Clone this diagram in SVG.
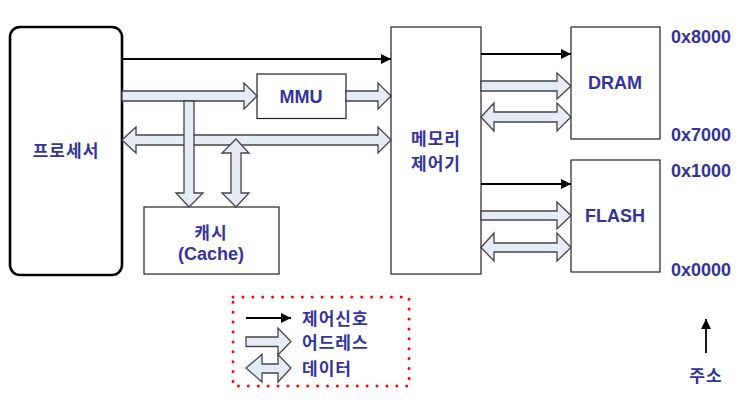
<svg xmlns="http://www.w3.org/2000/svg" width="755" height="411" viewBox="0 0 755 411">
<defs>
<marker id="ah" viewBox="0 0 10 10" refX="10" refY="5" markerWidth="10" markerHeight="11" markerUnits="userSpaceOnUse" orient="auto">
<path d="M0,0 L10,5 L0,10 Z" fill="#000"/>
</marker>
<style>
.box{fill:#fff;stroke:#222;stroke-width:1.2}
.blk{fill:none;stroke:#000;stroke-width:1.8}
.fat{fill:#e6ecf6;stroke:#444;stroke-width:1.3;stroke-linejoin:miter}
.lat{font-family:"Liberation Sans",Arial,sans-serif;font-weight:bold;font-size:18px;fill:#333399}
.kor{font-family:"Noto Sans CJK KR","Noto Sans",sans-serif;font-weight:bold;font-size:17px;letter-spacing:1px;fill:#333399}
</style>
</defs>
<rect width="755" height="411" fill="#fff"/>

<g id="processor">
<rect x="10" y="27" width="112" height="248" rx="10" ry="10" fill="#fff" stroke="#000" stroke-width="2.6"/>
<text class="kor" x="66" y="157" text-anchor="middle">프로세서</text>
</g>
<g id="mmu">
<rect class="box" x="257" y="74" width="89" height="44.5"/>
<text class="lat" x="301" y="102.5" text-anchor="middle">MMU</text>
</g>
<g id="cache">
<rect class="box" x="144" y="207" width="135" height="67"/>
<text class="kor" x="211" y="239" text-anchor="middle">캐시</text>
<text class="lat" x="211" y="259.5" text-anchor="middle">(Cache)</text>
</g>
<g id="memctrl">
<rect class="box" x="391" y="27" width="90" height="247"/>
<text class="kor" x="436" y="145" text-anchor="middle">메모리</text>
<text class="kor" x="436" y="170" text-anchor="middle">제어기</text>
</g>
<g id="dram">
<rect class="box" x="571" y="27" width="89" height="112"/>
<text class="lat" x="615" y="89" text-anchor="middle">DRAM</text>
</g>
<g id="flash">
<rect class="box" x="571" y="160" width="89" height="112"/>
<text class="lat" x="615" y="222.3" text-anchor="middle">FLASH</text>
</g>
<g id="addresses">
<text class="lat" x="671" y="42.7">0x8000</text>
<text class="lat" x="671" y="140.5">0x7000</text>
<text class="lat" x="671" y="176.5">0x1000</text>
<text class="lat" x="671" y="276">0x0000</text>
<line class="blk" x1="706" y1="353" x2="706" y2="319" marker-end="url(#ah)"/>
<text class="kor" x="706" y="382" text-anchor="middle">주소</text>
</g>

<g id="connectors">
<line class="blk" x1="122" y1="59" x2="391" y2="59" marker-end="url(#ah)"/>
<line class="blk" x1="481" y1="54" x2="571" y2="54" marker-end="url(#ah)"/>
<line class="blk" x1="481" y1="184" x2="571" y2="184" marker-end="url(#ah)"/>
<path class="fat" d="M122,91 L244,91 L244,83 L257,96 L244,109 L244,101 L122,101 Z"/>
<path class="fat" d="M346,91 L378,91 L378,83 L391,96 L378,109 L378,101 L346,101 Z"/>
<path class="fat" d="M122,140 L136,127 L136,135 L378,135 L378,127 L391,140 L378,153 L378,145 L136,145 L136,153 Z"/>
<path class="fat" d="M184,101 L194,101 L194,193 L203,193 L189,207 L176,193 L184,193 Z"/>
<path class="fat" d="M236,139 L249,153 L241,153 L241,193 L249,193 L236,207 L222,193 L231,193 L231,153 L222,153 Z"/>
<path class="fat" d="M481,81 L557,81 L557,73 L571,86 L557,99 L557,91 L481,91 Z"/>
<path class="fat" d="M481,117 L494,103 L494,112 L557,112 L557,103 L571,117 L557,131 L557,122 L494,122 L494,131 Z"/>
<path class="fat" d="M481,211 L557,211 L557,202 L571,215.5 L557,229 L557,220 L481,220 Z"/>
<path class="fat" d="M481,247.5 L494,233 L494,243 L557,243 L557,233 L571,247.5 L557,261 L557,252 L494,252 L494,261 Z"/>
</g>

<g id="legend">
<rect x="233" y="297" width="176" height="89" fill="none" stroke="#ff0000" stroke-width="3" stroke-linecap="round" stroke-dasharray="0 9.9"/>
<line class="blk" x1="246" y1="318" x2="291" y2="318" marker-end="url(#ah)"/>
<text class="kor" x="302" y="325">제어신호</text>
<path class="fat" d="M246,337 L278,337 L278,328 L291,341.5 L278,355 L278,346.5 L246,346.5 Z"/>
<text class="kor" x="302" y="349">어드레스</text>
<path class="fat" d="M246,368 L262,354.5 L262,364 L278,364 L278,354.5 L291,368 L278,382 L278,373 L262,373 L262,382 Z"/>
<text class="kor" x="302" y="375">데이터</text>
</g>
</svg>
